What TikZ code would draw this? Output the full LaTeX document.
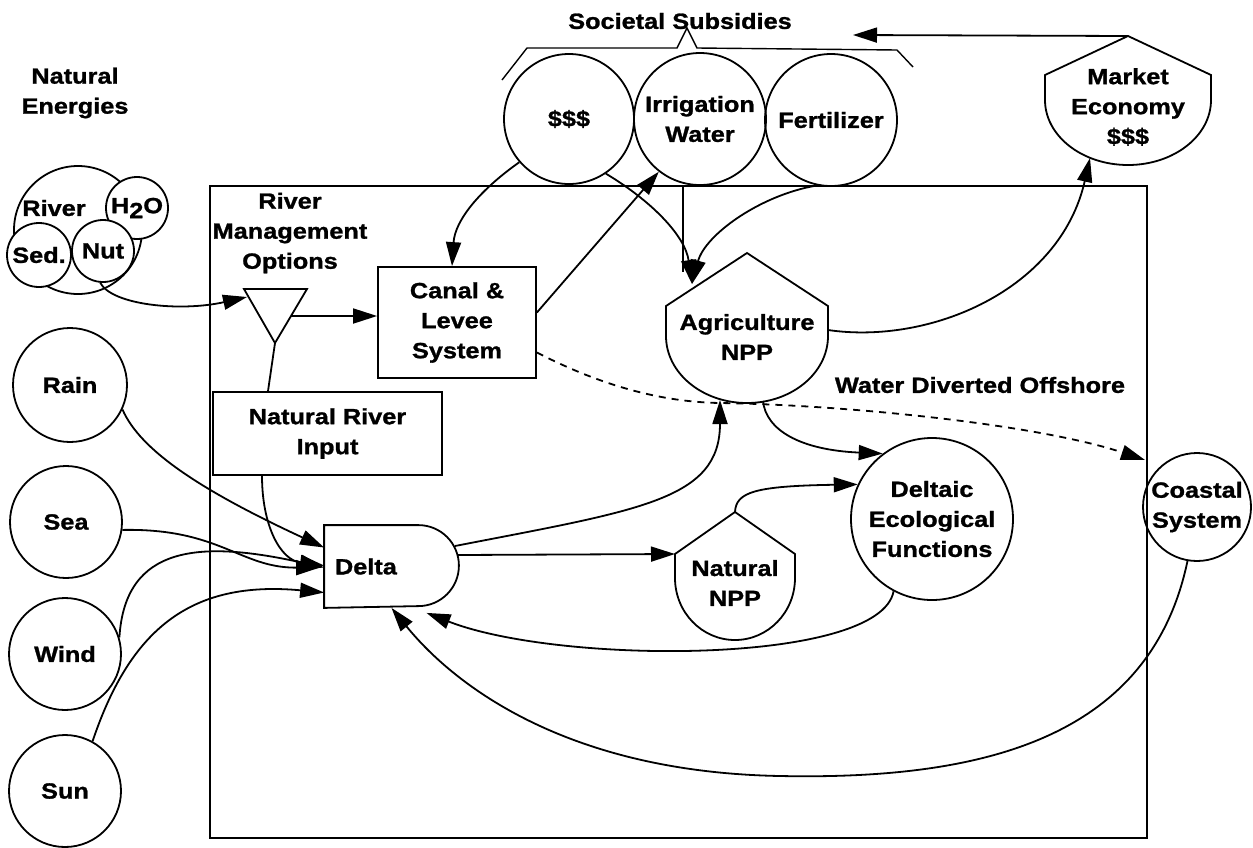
\documentclass[tikz,border=0pt]{standalone}
\usepackage{fontspec}
\setmainfont{Liberation Sans}[FakeStretch=1.15, BoldFeatures={FakeBold=1.2}]
\usetikzlibrary{arrows.meta,calc}
% pentagon top with a rounded bottom: (centre x, shoulder y)(half width:peak:side:depth)
\def\prodshape(#1,#2)(#3:#4:#5:#6){\draw (#1-#3,#2) -- (#1,#2-#4) -- (#1+#3,#2) -- (#1+#3,#2+#5) arc[start angle=0, end angle=-180, x radius=#3pt, y radius=#6pt] -- cycle;}

\begin{document}
\begin{tikzpicture}[x=1pt, y=-1pt, line width=1.8pt,
  every node/.style={font=\fontsize{22}{30}\selectfont\bfseries},
  pool/.style={circle, draw, inner sep=0pt, align=center},
  unitbox/.style={rectangle, draw, inner sep=0pt, align=center},
  lbl/.style={align=center, inner sep=0pt},
  flow/.style={-{Triangle[length=24pt,width=15pt]}},
  offshore/.style={flow, dash pattern=on 7pt off 6pt}]
			\useasboundingbox (0,0) rectangle (1253,847);
			
			%%%%% SOURCES %%%%%
			\node[lbl] (natlbl) at (75,93) {Natural\\Energies};
			\node[pool, minimum size=128pt] (river) at (78,230) {};
			\node[lbl] (rivertxt) at (54,208) {River};
			\node[pool, minimum size=62pt, fill=white] (water) at (137,208) {H\raisebox{-5pt}{2}O};
			\node[pool, minimum size=64pt, fill=white] (sed) at (39,255) {Sed.};
			\node[pool, minimum size=62pt, fill=white] (nut) at (103,251) {Nut};
			
			\node[pool, minimum size=114pt] (rain) at (70,385) {Rain};
			\node[pool, minimum size=112pt] (sea) at (66,522) {Sea};
			\node[pool, minimum size=112pt] (wind) at (65,654) {Wind};
			\node[pool, minimum size=112pt] (sun) at (65,791) {Sun};
			
			\node[lbl] (sublbl) at (680,21) {Societal Subsidies};
			\draw[line width=1.4pt] (502,80) -- (527,48) -- (677,48) -- (687,28) -- (697,48) -- (897,50) -- (913,67);
			\node[pool, minimum size=130pt] (cash) at (569,119) {\$\$\$};
			\node[pool, minimum size=132pt] (irrig) at (700,119) {Irrigation\\Water};
			\node[pool, minimum size=132pt] (fert) at (831,120) {Fertilizer};
			
			\prodshape(1128,75)(83:39:25:65);
			\node[lbl] (market) at (1128,107) {Market\\Economy\\\$\$\$};
			
			%%%%% SYSTEM %%%%%
			\node[unitbox, minimum width=937pt, minimum height=652pt] (sys) at (678.5,512) {};
			
			\node[lbl] (rmolbl) at (290,233) {River\\Management\\Options};
			\draw (244,289) -- (307,289) -- (275,343) -- cycle;
			\node[unitbox, minimum width=158pt, minimum height=111pt] (canal) at (457,322.5) {Canal \&\\Levee\\System};
			\node[unitbox, minimum width=229pt, minimum height=83pt] (nri) at (327.5,433.5) {Natural River\\Input};
			
			\node[lbl, minimum width=133pt, minimum height=81pt, text width=113pt, inner xsep=10pt, align=left] (delta) at (391.5,566.5) {Delta};
			\draw (delta.north west) -- ([xshift=-40.5pt]delta.north east) arc[start angle=90, end angle=-90, radius=40.5pt] -- (delta.south west) -- cycle;
			
			\prodshape(747,306)(81:53:30:67);
			\node[lbl] (agri) at (747,337) {Agriculture\\NPP};
			\prodshape(735,554)(60:42:24:62);
			\node[lbl] (nnpp) at (735,583) {Natural\\NPP};
			
			\node[pool, minimum size=162pt] (eco) at (932,519) {Deltaic\\Ecological\\Functions};
			\node[lbl] (offlbl) at (980,385) {Water Diverted Offshore};
			\node[pool, minimum size=108pt] (coast) at (1197,507) {Coastal\\System};
			
			\coordinate (trin) at (247,297);
			\coordinate (trout) at (291,316);
			\coordinate (trapex) at (275,343);
			\coordinate (agriin) at (692,284);
			\coordinate (agrieast) at (828,330);
			\coordinate (agribl) at (720,400);
			\coordinate (agribr) at (763,401);
			\coordinate (mktpeak) at (1128,36);
			\coordinate (mktin) at (1090,158);
			\coordinate (subtip) at (853,35);
			\coordinate (npppeak) at (735,512);
			\coordinate (nppleft) at (675,554);
			\coordinate (subtap) at (683,186);
			\coordinate (offtip) at (1145,460);
			\coordinate (deltaup) at (455,546);
			\coordinate (deltaout) at (457,555);
			
			%%%%% FLOWS %%%%%
			\draw[flow] (nut.-95) .. controls (112,305) and (180,312) .. (trin);
			\draw[flow] (trout) -- (trout -| canal.west);
			\draw (trapex) -- ([xshift=-59.5pt]nri.north);
			\draw[flow] ([xshift=-65.5pt]nri.south) .. controls (262,525) and (280,560) .. ([yshift=1pt]delta.west);
			\draw[flow] (rain.-25) .. controls (140,450) and (200,490) .. ([yshift=19pt]delta.west);
			\draw[flow] (sea.-8) .. controls (220,528) and (240,568) .. ([xshift=-4pt,yshift=-1pt]delta.west);
			\draw[flow] (wind.17) .. controls (125,545) and (200,540) .. ([yshift=-1pt]delta.west);
			\draw[flow] (sun.61) .. controls (130,630) and (190,580) .. ([yshift=-26pt]delta.west);
			
			\draw[flow] (cash.221) .. controls (480,190) and (455,220) .. ([xshift=-5pt]canal.north);
			\draw[flow] ([yshift=10pt]canal.east) -- (irrig.232);
			\draw[flow] (cash.-56) .. controls (650,200) and (685,235) .. (agriin);
			\draw (subtap) -- ++(0,86);
			\draw[flow] (fert.258) .. controls (760,195) and (705,235) .. (agriin);
			\draw[flow] (agrieast) .. controls (930,345) and (1060,290) .. (mktin);
			\draw[flow] (mktpeak) -- (subtip);
			\draw[offshore] ([yshift=-30pt]canal.east) .. controls (600,385) and (660,402) .. (720,403) .. controls (850,405) and (1040,425) .. (offtip);
			
			\draw[flow] (deltaup) .. controls (640,510) and (720,500) .. (agribl);
			\draw[flow] (agribr) .. controls (766,430) and (800,450) .. (eco.127);
			\draw[flow] (npppeak) .. controls (736,492) and (755,486) .. (eco.155);
			\draw[flow] (deltaout) -- (nppleft);
			\draw[flow] (eco.-118) .. controls (880,665) and (560,665) .. ([xshift=35pt,yshift=-5pt]delta.south);
			\draw[flow] (coast.-100) .. controls (1150,740) and (980,780) .. (780,776) .. controls (560,772) and (450,680) .. (delta.south);
		\end{tikzpicture}
\end{document}
